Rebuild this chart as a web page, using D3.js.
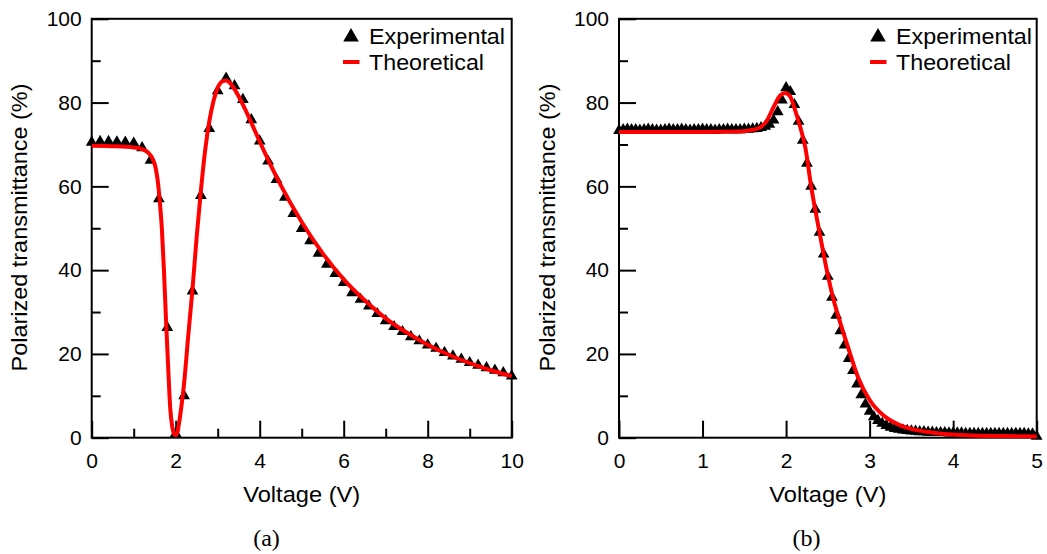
<!DOCTYPE html>
<html>
<head>
<meta charset="utf-8">
<script src="https://cdn.jsdelivr.net/npm/d3@7"></script>
<style>
  html, body { margin: 0; padding: 0; background: #fff; }
  svg { display: block; }
  text { fill: #000; }
</style>
</head>
<body>
<svg id="chart" width="1047" height="554"></svg>
<script>
// ---------- Panel (a) data ----------
const expVoltsA = [0,0.2,0.4,0.6,0.8,1.0,1.2,1.4,1.6,1.8,2.0,2.2,2.4,2.6,2.8,3.0,3.2,3.4,3.6,3.8,4.0,4.2,4.4,4.6,4.8,5.0,5.2,5.4,5.6,5.8,6.0,6.2,6.4,6.6,6.8,7.0,7.2,7.4,7.6,7.8,8.0,8.2,8.4,8.6,8.8,9.0,9.2,9.4,9.6,9.8,10.0];
const expTransA = [70.5,70.7,70.7,70.6,70.5,70.3,69.2,66.2,57.0,26.3,1.0,10.0,35.0,57.8,73.8,82.8,85.8,84.0,80.7,75.9,70.8,66.0,61.6,57.4,53.5,49.9,47.0,44.0,41.4,39.2,37.0,34.6,33.0,31.4,29.6,27.9,26.5,25.3,24.1,23.1,22.1,21.3,20.3,19.5,18.7,17.9,17.3,16.7,16.1,15.5,14.7];
const theoVoltsA = [0,0.5,1.0,1.2,1.35,1.45,1.52,1.57,1.62,1.67,1.72,1.77,1.82,1.87,1.92,1.96,2.0,2.04,2.08,2.13,2.2,2.3,2.4,2.5,2.6,2.7,2.8,2.9,3.0,3.1,3.2,3.3,3.4,3.6,3.8,4.0,4.25,4.5,5.0,5.5,6.0,6.5,7.0,7.5,8.0,8.5,9.0,9.5,10.0];
const theoTransA = [69.7,69.6,69.3,68.9,68.0,66.6,64.5,61.5,56.5,50.0,40.0,28.0,17.0,7.0,2.5,0.9,0.6,1.2,3.5,7.0,13.0,24.5,35.5,48.0,59.0,68.5,75.5,80.4,83.5,85.0,85.3,84.6,83.2,79.5,75.2,70.7,65.3,60.3,51.5,44.0,37.8,32.8,28.5,25.1,22.2,19.8,17.8,16.1,14.7];
const xTicksA = [0,2,4,6,8,10];
const xMinorA = [1,3,5,7,9];

// ---------- Panel (b) data ----------
const expVoltsB = [0,0.05,0.1,0.15,0.2,0.25,0.3,0.35,0.4,0.45,0.5,0.55,0.6,0.65,0.7,0.75,0.8,0.85,0.9,0.95,1.0,1.05,1.1,1.15,1.2,1.25,1.3,1.35,1.4,1.45,1.5,1.55,1.6,1.65,1.7,1.75,1.8,1.85,1.9,1.95,2.0,2.05,2.1,2.15,2.2,2.25,2.3,2.35,2.4,2.45,2.5,2.55,2.6,2.65,2.7,2.75,2.8,2.85,2.9,2.95,3.0,3.05,3.1,3.15,3.2,3.25,3.3,3.35,3.4,3.45,3.5,3.55,3.6,3.65,3.7,3.75,3.8,3.85,3.9,3.95,4.0,4.05,4.1,4.15,4.2,4.25,4.3,4.35,4.4,4.45,4.5,4.55,4.6,4.65,4.7,4.75,4.8,4.85,4.9,4.95,5.0];
const expTransB = [73.3,73.5,73.6,73.5,73.5,73.4,73.5,73.6,73.5,73.4,73.4,73.5,73.6,73.5,73.5,73.6,73.5,73.4,73.5,73.5,73.6,73.5,73.5,73.4,73.5,73.5,73.6,73.5,73.5,73.5,73.6,73.6,73.7,73.8,74.0,74.3,74.8,75.8,77.8,80.6,83.5,82.6,79.5,75.5,71.0,65.5,60.0,54.5,49.0,43.8,38.5,33.5,29.2,25.5,22.1,18.9,16.0,12.8,10.2,8.0,6.3,5.0,4.1,3.4,2.9,2.5,2.2,2.0,1.8,1.7,1.6,1.5,1.4,1.4,1.3,1.3,1.2,1.2,1.2,1.1,1.1,1.1,1.1,1.0,1.0,1.0,1.0,1.0,1.0,1.0,1.0,1.0,1.0,1.0,1.0,1.0,1.0,1.0,0.9,0.9,0.3];
const theoVoltsB = [0,0.5,1.0,1.45,1.6,1.69,1.77,1.85,1.93,1.99,2.05,2.11,2.17,2.23,2.3,2.4,2.5,2.56,2.64,2.74,2.86,3.0,3.16,3.36,3.56,3.76,4.16,4.6,5.0];
const theoTransB = [73.0,73.0,73.0,73.1,73.5,74.1,75.7,78.9,81.7,82.3,81.4,78.1,74.1,69.3,60.0,49.0,38.8,33.6,28.0,21.7,14.5,9.0,5.4,3.0,1.8,1.2,0.6,0.4,0.3];
const xTicksB = [0,1,2,3,4,5];
const xMinorB = [];

const yTicks = [0,20,40,60,80,100];
const yMinor = [10,30,50,70,90];

const seriesNames = ["Experimental", "Theoretical"];
const captions = ["(a)", "(b)"];

const SANS = "'Liberation Sans', Arial, sans-serif";
const SERIF = "'Liberation Serif', 'Times New Roman', serif";

const svg = d3.select("#chart");

function drawPanel(p) {
  const g = svg.append("g").style("font-family", SANS);
  const x = d3.scaleLinear().domain(p.xDomain).range([p.left, p.right]);
  const y = d3.scaleLinear().domain([0, 100]).range([437.7, 18.8]);

  // minor ticks
  g.append("g").attr("transform", `translate(${p.left},0)`)
    .call(d3.axisLeft(y).tickValues(yMinor).tickSize(-9).tickFormat(""))
    .call(s => s.select(".domain").remove())
    .call(s => s.selectAll("line").attr("stroke-width", 2));
  if (p.xMinor.length) {
    g.append("g").attr("transform", `translate(0,437.7)`)
      .call(d3.axisBottom(x).tickValues(p.xMinor).tickSize(-9).tickFormat(""))
      .call(s => s.select(".domain").remove())
      .call(s => s.selectAll("line").attr("stroke-width", 2));
  }
  // major ticks
  g.append("g").attr("transform", `translate(${p.left},0)`)
    .call(d3.axisLeft(y).tickValues(yTicks).tickSize(-17).tickPadding(10).tickFormat(d3.format("d")))
    .call(s => s.select(".domain").remove())
    .call(s => s.selectAll("line").attr("stroke-width", 2))
    .call(s => s.selectAll("text").style("font-size", "21px").style("font-family", SANS).attr("fill", "#000"));
  g.append("g").attr("transform", `translate(0,437.7)`)
    .call(d3.axisBottom(x).tickValues(p.xTicks).tickSize(-17).tickPadding(15).tickFormat(d3.format("d")))
    .call(s => s.select(".domain").remove())
    .call(s => s.selectAll("line").attr("stroke-width", 2))
    .call(s => s.selectAll("text").style("font-size", "21px").style("font-family", SANS).attr("fill", "#000"));

  // frame
  g.append("rect")
    .attr("x", p.left).attr("y", y(100))
    .attr("width", p.right - p.left).attr("height", y(0) - y(100))
    .attr("fill", "none").attr("stroke", "#000").attr("stroke-width", 2);

  // experimental triangles
  const tri = d3.symbol().type(d3.symbolTriangle).size(60);
  g.append("g").selectAll("path").data(p.expV.map((v, i) => [v, p.expT[i]]))
    .join("path")
    .attr("d", tri)
    .attr("transform", d => `translate(${x(d[0])},${y(d[1])})`)
    .attr("fill", "#000");

  // theoretical line
  const line = d3.line().x(d => x(d[0])).y(d => y(d[1])).curve(d3.curveMonotoneX);
  g.append("path")
    .datum(p.theoV.map((v, i) => [v, p.theoT[i]]))
    .attr("d", line)
    .attr("fill", "none").attr("stroke", "#ff0000").attr("stroke-width", 4)
    .attr("stroke-linejoin", "round");

  // legend
  const lx = p.legendX;
  g.append("path").attr("d", d3.symbol().type(d3.symbolTriangle).size(105)())
    .attr("transform", `translate(${lx + 8},37)`).attr("fill", "#000");
  g.append("line").attr("x1", lx).attr("x2", lx + 16.5).attr("y1", 62).attr("y2", 62)
    .attr("stroke", "#ff0000").attr("stroke-width", 4);
  g.append("text").attr("x", lx + 26).attr("y", 44).style("font-size", "22px")
    .attr("textLength", 136).attr("lengthAdjust", "spacingAndGlyphs").text(seriesNames[0]);
  g.append("text").attr("x", lx + 26).attr("y", 69.5).style("font-size", "22px")
    .attr("textLength", 115).attr("lengthAdjust", "spacingAndGlyphs").text(seriesNames[1]);

  // axis titles
  const cx = (p.left + p.right) / 2;
  g.append("text").attr("x", cx).attr("y", 502).attr("text-anchor", "middle")
    .style("font-size", "22px").attr("textLength", 117).attr("lengthAdjust", "spacingAndGlyphs")
    .text("Voltage (V)");
  g.append("text")
    .attr("transform", `translate(${p.yTitleX},227.5) rotate(-90)`)
    .attr("text-anchor", "middle").style("font-size", "22px")
    .attr("textLength", 288).attr("lengthAdjust", "spacingAndGlyphs")
    .text("Polarized transmittance (%)");

  // caption
  g.append("text").attr("x", p.captionX).attr("y", 546).attr("text-anchor", "middle")
    .style("font-size", "24px").style("font-family", SERIF)
    .text(p.caption);
}

drawPanel({
  left: 91.7, right: 511.7, xDomain: [0, 10], xTicks: xTicksA, xMinor: xMinorA,
  expV: expVoltsA, expT: expTransA, theoV: theoVoltsA, theoT: theoTransA,
  legendX: 343, yTitleX: 27, captionX: 266.5, caption: captions[0]
});
drawPanel({
  left: 619, right: 1036.7, xDomain: [0, 5], xTicks: xTicksB, xMinor: xMinorB,
  expV: expVoltsB, expT: expTransB, theoV: theoVoltsB, theoT: theoTransB,
  legendX: 870, yTitleX: 555, captionX: 806.5, caption: captions[1]
});
</script>
</body>
</html>
